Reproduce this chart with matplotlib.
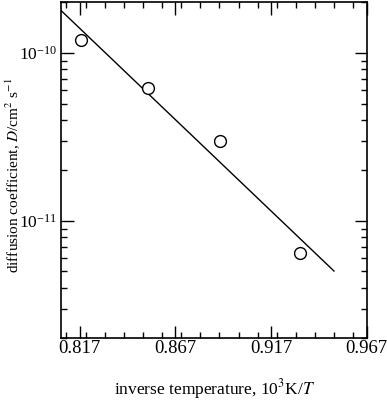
import numpy as np
import matplotlib
matplotlib.use("Agg")
import matplotlib.pyplot as plt
from matplotlib.ticker import LogLocator, NullFormatter, MultipleLocator, FixedLocator

# donnees
inv_T = [0.8175, 0.8524, 0.8904, 0.9321]
D = [1.2e-10, 6.16e-11, 2.99e-11, 6.4e-12]

# droite d'ajustement (extremites)
fit_x = [0.807, 0.9499]
fit_D = [1.80e-10, 5.03e-12]

x_ticks = [0.817, 0.867, 0.917, 0.967]
x_ticklabels = ['0.817', '0.867', '0.917', '0.967']

plt.rcParams['font.family'] = ['Liberation Serif', 'DejaVu Serif']
plt.rcParams['mathtext.fontset'] = 'stix'
plt.rcParams['font.size'] = 13

fig = plt.figure(figsize=(3.87, 4.0), dpi=100)
ax = fig.add_axes([0.1568, 0.1543, 0.9475 - 0.1568, 0.9938 - 0.1543])

ax.plot(fit_x, fit_D, color='black', linewidth=1.0)
ax.plot(inv_T, D, linestyle='none', marker='o', markersize=8.5,
        markerfacecolor='white', markeredgecolor='black', markeredgewidth=1.0)

ax.set_yscale('log')
ax.set_xlim(0.807, 0.967)
ax.set_ylim(2e-12, 2e-10)

ax.xaxis.set_major_locator(FixedLocator(x_ticks))
ax.set_xticklabels(x_ticklabels)
ax.xaxis.set_minor_locator(MultipleLocator(0.01))
ax.yaxis.set_major_locator(LogLocator(base=10))
ax.yaxis.set_minor_locator(LogLocator(base=10, subs=np.arange(2, 10)))
ax.yaxis.set_minor_formatter(NullFormatter())

ax.tick_params(which='both', direction='in', top=True, right=True, width=1.0)
ax.tick_params(which='major', length=9)
ax.tick_params(which='minor', length=4.5)
ax.tick_params(axis='x', which='major', pad=1.5, labelsize=13.5)
ax.tick_params(axis='y', which='major', pad=2.5, labelsize=12.5)
for s in ax.spines.values():
    s.set_linewidth(1.2)

ax.set_xlabel(r'inverse temperature, 10$^{3}$K/$\mathit{T}$', fontsize=12.5)
ax.set_ylabel(r'diffusion coefficient, $\mathit{D}$/cm$^{2}$ s$^{-1}$', fontsize=11)
ax.xaxis.set_label_coords(0.504, -0.115)
ax.yaxis.label.set_va('center')
ax.yaxis.set_label_coords(-0.1575, 0.486)

fig.savefig('out.png', dpi=100)
